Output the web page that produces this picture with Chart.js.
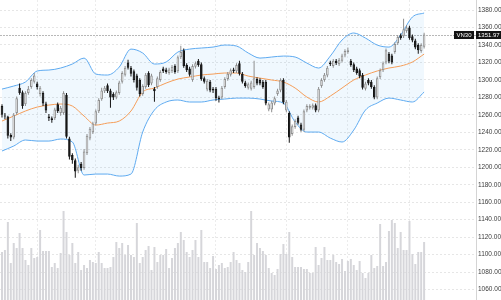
<!DOCTYPE html>
<html>
<head>
<meta charset="utf-8">
<script src="https://cdn.jsdelivr.net/npm/chart.js@4.4.1/dist/chart.umd.min.js"></script>
<style>
  html, body { margin: 0; padding: 0; background: #fff; }
  #wrap { width: 501px; height: 300px; }
</style>
</head>
<body>
<div id="wrap"><canvas id="vn30" width="501" height="300"></canvas></div>
<script>
// VN30 daily sessions, oldest first
const symbol = 'VN30'
const opens = [
  1270, 1259, 1258, 1237, 1234, 1262, 1291, 1286, 1272, 1285,
  1292, 1298, 1296, 1284, 1285, 1273, 1258, 1256, 1256, 1272,
  1262, 1262, 1283, 1233, 1214, 1208, 1196, 1204, 1199, 1216,
  1233, 1240, 1250, 1264, 1278, 1287, 1294, 1288, 1284, 1280,
  1285, 1298, 1306, 1320, 1314, 1310, 1305, 1300, 1284, 1292,
  1308, 1296, 1290, 1292, 1300, 1313, 1312, 1308, 1310, 1316,
  1310, 1326, 1334, 1317, 1313, 1300, 1315, 1322, 1318, 1302,
  1289, 1298, 1290, 1290, 1280, 1280, 1292, 1301, 1306, 1312,
  1310, 1319, 1307, 1297, 1291, 1290, 1292, 1301, 1300, 1298,
  1298, 1266, 1266, 1273, 1284, 1288, 1300, 1265, 1262, 1238,
  1246, 1257, 1249, 1243, 1265, 1268, 1268, 1271, 1265, 1293,
  1300, 1305, 1320, 1316, 1322, 1318, 1322, 1328, 1332, 1322,
  1318, 1313, 1311, 1306, 1290, 1300, 1298, 1292, 1280, 1303,
  1311, 1320, 1330, 1328, 1332, 1342, 1351, 1350, 1356, 1360,
  1350, 1345, 1340, 1333, 1338
]
const highs = [
  1272, 1262, 1259, 1239, 1262, 1281, 1296, 1288, 1287, 1293,
  1302, 1308, 1298, 1293, 1287, 1275, 1261, 1258, 1268, 1274,
  1270, 1287, 1285, 1235, 1216, 1210, 1203, 1206, 1221, 1238,
  1246, 1252, 1266, 1279, 1291, 1293, 1296, 1290, 1286, 1288,
  1299, 1310, 1316, 1323, 1316, 1312, 1307, 1302, 1295, 1308,
  1310, 1307, 1292, 1304, 1311, 1315, 1314, 1314, 1317, 1318,
  1328, 1339, 1336, 1319, 1315, 1318, 1321, 1324, 1320, 1304,
  1301, 1300, 1292, 1292, 1282, 1293, 1303, 1309, 1313, 1314,
  1319, 1322, 1309, 1299, 1297, 1299, 1322, 1303, 1302, 1300,
  1300, 1274, 1276, 1281, 1290, 1302, 1302, 1277, 1264, 1249,
  1255, 1259, 1251, 1266, 1272, 1272, 1273, 1273, 1292, 1302,
  1308, 1316, 1322, 1324, 1324, 1325, 1330, 1335, 1337, 1324,
  1320, 1315, 1313, 1308, 1298, 1302, 1300, 1294, 1304, 1313,
  1321, 1336, 1332, 1330, 1343, 1351, 1353, 1370, 1363, 1362,
  1352, 1347, 1342, 1342, 1354
]
const lows = [
  1257, 1255, 1233, 1230, 1232, 1260, 1283, 1267, 1270, 1283,
  1290, 1296, 1289, 1281, 1270, 1262, 1253, 1251, 1254, 1262,
  1259, 1260, 1233, 1209, 1204, 1188, 1193, 1196, 1197, 1214,
  1231, 1238, 1248, 1262, 1276, 1285, 1285, 1268, 1277, 1278,
  1283, 1296, 1304, 1312, 1304, 1297, 1288, 1281, 1282, 1290,
  1292, 1294, 1275, 1290, 1298, 1308, 1307, 1306, 1308, 1307,
  1308, 1324, 1314, 1309, 1304, 1298, 1313, 1315, 1299, 1296,
  1287, 1286, 1285, 1276, 1274, 1278, 1290, 1299, 1304, 1308,
  1308, 1305, 1296, 1291, 1289, 1288, 1290, 1294, 1294, 1290,
  1271, 1264, 1263, 1271, 1282, 1286, 1272, 1263, 1228, 1236,
  1244, 1249, 1241, 1241, 1263, 1266, 1266, 1263, 1263, 1291,
  1298, 1303, 1316, 1314, 1317, 1316, 1320, 1326, 1330, 1315,
  1309, 1306, 1302, 1289, 1288, 1294, 1290, 1278, 1278, 1301,
  1309, 1318, 1319, 1318, 1330, 1340, 1346, 1348, 1354, 1346,
  1343, 1335, 1330, 1331, 1336
]
const closes = [
  1260, 1258, 1236, 1234, 1260, 1279, 1285, 1270, 1285, 1290,
  1300, 1305, 1292, 1291, 1273, 1265, 1256, 1254, 1266, 1264,
  1268, 1285, 1235, 1212, 1208, 1195, 1200, 1199, 1218, 1236,
  1244, 1250, 1264, 1277, 1288, 1291, 1287, 1280, 1280, 1286,
  1297, 1308, 1314, 1314, 1307, 1300, 1291, 1284, 1293, 1306,
  1294, 1305, 1287, 1302, 1309, 1310, 1309, 1312, 1315, 1309,
  1326, 1332, 1316, 1311, 1306, 1316, 1319, 1317, 1301, 1298,
  1299, 1288, 1288, 1279, 1278, 1291, 1301, 1307, 1311, 1310,
  1317, 1307, 1298, 1293, 1295, 1297, 1302, 1296, 1296, 1292,
  1273, 1272, 1274, 1279, 1288, 1300, 1274, 1275, 1234, 1247,
  1253, 1251, 1243, 1264, 1270, 1270, 1271, 1265, 1290, 1300,
  1306, 1314, 1318, 1322, 1319, 1323, 1328, 1333, 1334, 1317,
  1311, 1308, 1304, 1291, 1296, 1296, 1292, 1280, 1302, 1311,
  1319, 1334, 1321, 1320, 1341, 1349, 1348, 1358, 1360, 1348,
  1345, 1337, 1334, 1340, 1351.97
]
// traded volume, millions of shares
const volumes = [
  48, 50, 78, 37, 57, 52, 67, 52, 40, 35,
  52, 42, 43, 70, 49, 49, 49, 33, 37, 32,
  47, 89, 68, 45, 57, 37, 48, 30, 35, 32,
  40, 38, 37, 48, 37, 32, 32, 33, 43, 58,
  52, 57, 45, 55, 45, 43, 77, 37, 43, 50,
  54, 30, 53, 38, 45, 45, 51, 32, 42, 52,
  57, 68, 60, 48, 43, 50, 60, 43, 70, 38,
  38, 32, 44, 31, 35, 37, 32, 33, 38, 48,
  40, 37, 30, 28, 38, 89, 45, 57, 52, 49,
  45, 32, 27, 25, 31, 46, 56, 46, 68, 43,
  33, 33, 33, 31, 31, 27, 27, 53, 35, 42,
  53, 40, 40, 45, 38, 36, 41, 29, 39, 41,
  35, 30, 39, 27, 22, 27, 45, 32, 34, 76,
  34, 38, 69, 80, 77, 52, 68, 50, 50, 79,
  46, 36, 48, 48, 58
]

// Bollinger(20, 2) readings, every 4th session
const bandDays = [0, 4, 8, 12, 16, 20, 24, 28, 32, 36, 40, 44, 48, 52, 56, 60, 64, 68, 72,
  76, 80, 84, 88, 92, 96, 100, 104, 108, 112, 116, 120, 124, 128, 132, 136, 140, 144]
const upperBand = [1289.5, 1293.0, 1297.6, 1310.2, 1311.3, 1313.6, 1318.2, 1325.0, 1306.7, 1305.6,
  1314.7, 1335.3, 1330.8, 1318.2, 1320.5, 1331.9, 1335.3, 1336.5, 1337.6, 1339.9,
  1338.8, 1330.8, 1325.0, 1326.2, 1327.3, 1326.2, 1319.3, 1313.6, 1327.3, 1345.7,
  1353.7, 1347.9, 1339.9, 1337.6, 1351.4, 1372.0, 1376.6]
const middleBand = [1252.9, 1258.6, 1264.4, 1268.9, 1271.2, 1272.4, 1270.1, 1258.6, 1248.3, 1250.6,
  1252.9, 1264.4, 1286.1, 1290.7, 1296.4, 1301.0, 1303.3, 1305.6, 1306.7, 1307.9,
  1307.9, 1304.4, 1302.1, 1299.9, 1297.6, 1290.7, 1280.4, 1274.7, 1281.5, 1290.7,
  1299.9, 1305.6, 1310.2, 1313.6, 1315.9, 1320.5, 1329.6]
const lowerBand = [1218.6, 1224.3, 1231.2, 1230.0, 1230.0, 1232.3, 1228.9, 1191.1, 1192.2, 1192.2,
  1189.9, 1192.2, 1240.3, 1265.5, 1274.7, 1277.0, 1274.7, 1274.7, 1277.0, 1278.1,
  1279.2, 1279.2, 1278.1, 1275.8, 1273.5, 1251.8, 1240.3, 1240.3, 1233.4, 1228.9,
  1242.6, 1265.5, 1273.5, 1279.2, 1277.0, 1274.7, 1286.1]

// first session of each month (vertical grid)
const monthStarts = [12, 32, 73, 97, 118, 139]
const priceTicks = [1060, 1080, 1100, 1120, 1140, 1160, 1180, 1200, 1220, 1240,
  1260, 1280, 1300, 1320, 1340, 1360, 1380]

const UP_LINE = '#8f8f8f'
const DOWN = '#141414'
const isUp = closes.map((c, i) => c >= opens[i])

const band = arr => bandDays.map((d, k) => ({x: d, y: arr[k]}))

// last price line + tags
const lastTag = {
  id: 'lastTag',
  beforeDatasetsDraw(chart) {
    const {ctx, chartArea} = chart
    const y = Math.round(chart.scales.y.getPixelForValue(closes[closes.length - 1])) + 0.5
    ctx.save()
    ctx.strokeStyle = '#b8b8b8'
    ctx.lineWidth = 1
    ctx.setLineDash([2, 1])
    ctx.beginPath()
    ctx.moveTo(chartArea.left, y)
    ctx.lineTo(chartArea.right, y)
    ctx.stroke()
    ctx.restore()
  },
  afterDraw(chart) {
    const {ctx, chartArea, width} = chart
    const last = closes[closes.length - 1]
    const y = Math.round(chart.scales.y.getPixelForValue(last))
    ctx.save()
    ctx.font = '6px "Liberation Sans", Arial, sans-serif'
    ctx.textBaseline = 'middle'
    const nameW = ctx.measureText(symbol).width + 5
    ctx.fillStyle = DOWN
    ctx.fillRect(chartArea.right - 2 - nameW, y - 4, nameW, 8)
    ctx.fillRect(chartArea.right, y - 4, width - chartArea.right, 8)
    ctx.fillStyle = '#fff'
    ctx.textAlign = 'center'
    ctx.fillText(symbol, chartArea.right - 2 - nameW / 2, y + 0.5)
    ctx.textAlign = 'left'
    ctx.fillText(last.toFixed(2), chartArea.right + 2, y + 0.5)
    ctx.restore()
  }
}

new Chart(document.getElementById('vn30'), {
  type: 'bar',
  data: {
    datasets: [{
      label: 'Volume',
      yAxisID: 'vol',
      data: volumes.map((v, i) => ({x: i, y: v})),
      backgroundColor: '#d6d6da',
      grouped: false,
      categoryPercentage: 1,
      barPercentage: 0.68,
      order: 10
    }, {
      type: 'line',
      label: 'Upper',
      data: band(upperBand),
      borderColor: '#5eaaf0',
      borderWidth: 1,
      backgroundColor: 'rgba(33,150,243,0.065)',
      fill: '+1',
      pointRadius: 0,
      cubicInterpolationMode: 'monotone',
      order: 6
    }, {
      type: 'line',
      label: 'Lower',
      data: band(lowerBand),
      borderColor: '#5eaaf0',
      borderWidth: 1,
      fill: false,
      pointRadius: 0,
      cubicInterpolationMode: 'monotone',
      order: 5
    }, {
      type: 'line',
      label: 'MA20',
      data: band(middleBand),
      borderColor: '#f59d58',
      borderWidth: 1,
      fill: false,
      pointRadius: 0,
      cubicInterpolationMode: 'monotone',
      order: 4
    }, {
      label: 'Wick',
      data: closes.map((c, i) => ({x: i, y: [lows[i], highs[i]]})),
      backgroundColor: isUp.map(u => u ? UP_LINE : DOWN),
      grouped: false,
      categoryPercentage: 1,
      barPercentage: 0.34,
      order: 2
    }, {
      label: 'Body',
      data: closes.map((c, i) => ({x: i, y: [opens[i], c]})),
      backgroundColor: isUp.map(u => u ? '#ffffff' : DOWN),
      borderColor: isUp.map(u => u ? UP_LINE : DOWN),
      borderWidth: 1,
      borderSkipped: false,
      minBarLength: 1,
      grouped: false,
      categoryPercentage: 1,
      barPercentage: 0.88,
      order: 1
    }]
  },
  options: {
    responsive: false,
    animation: false,
    devicePixelRatio: 1,
    layout: { padding: 0 },
    plugins: {
      legend: { display: false },
      tooltip: { enabled: false }
    },
    scales: {
      x: {
        type: 'linear',
        min: -0.68,
        max: 161.7,
        offset: false,
        ticks: { display: false },
        grid: { color: '#ececec', drawTicks: false, offset: false },
        border: { display: false, dash: [2, 2] },
        afterBuildTicks: s => { s.ticks = monthStarts.map(v => ({value: v})) },
        afterFit: s => { s.height = 0; s.paddingLeft = 0; s.paddingRight = 0 }
      },
      y: {
        position: 'right',
        min: 1048,
        max: 1391.5,
        ticks: {
          font: { family: '"Liberation Sans", Arial, sans-serif', size: 6.5 },
          color: '#3c3c3c',
          padding: 2,
          callback: v => v.toFixed(2)
        },
        grid: { color: '#e6e6e6', drawTicks: false },
        border: { color: '#d4d4d4', dash: [2, 2] },
        afterBuildTicks: s => { s.ticks = priceTicks.map(v => ({value: v})) },
        afterFit: s => { s.width = 25; s.paddingTop = 0; s.paddingBottom = 0 }
      },
      vol: { display: false, min: 0, max: 300 }
    }
  },
  plugins: [lastTag]
})
</script>
</body>
</html>
